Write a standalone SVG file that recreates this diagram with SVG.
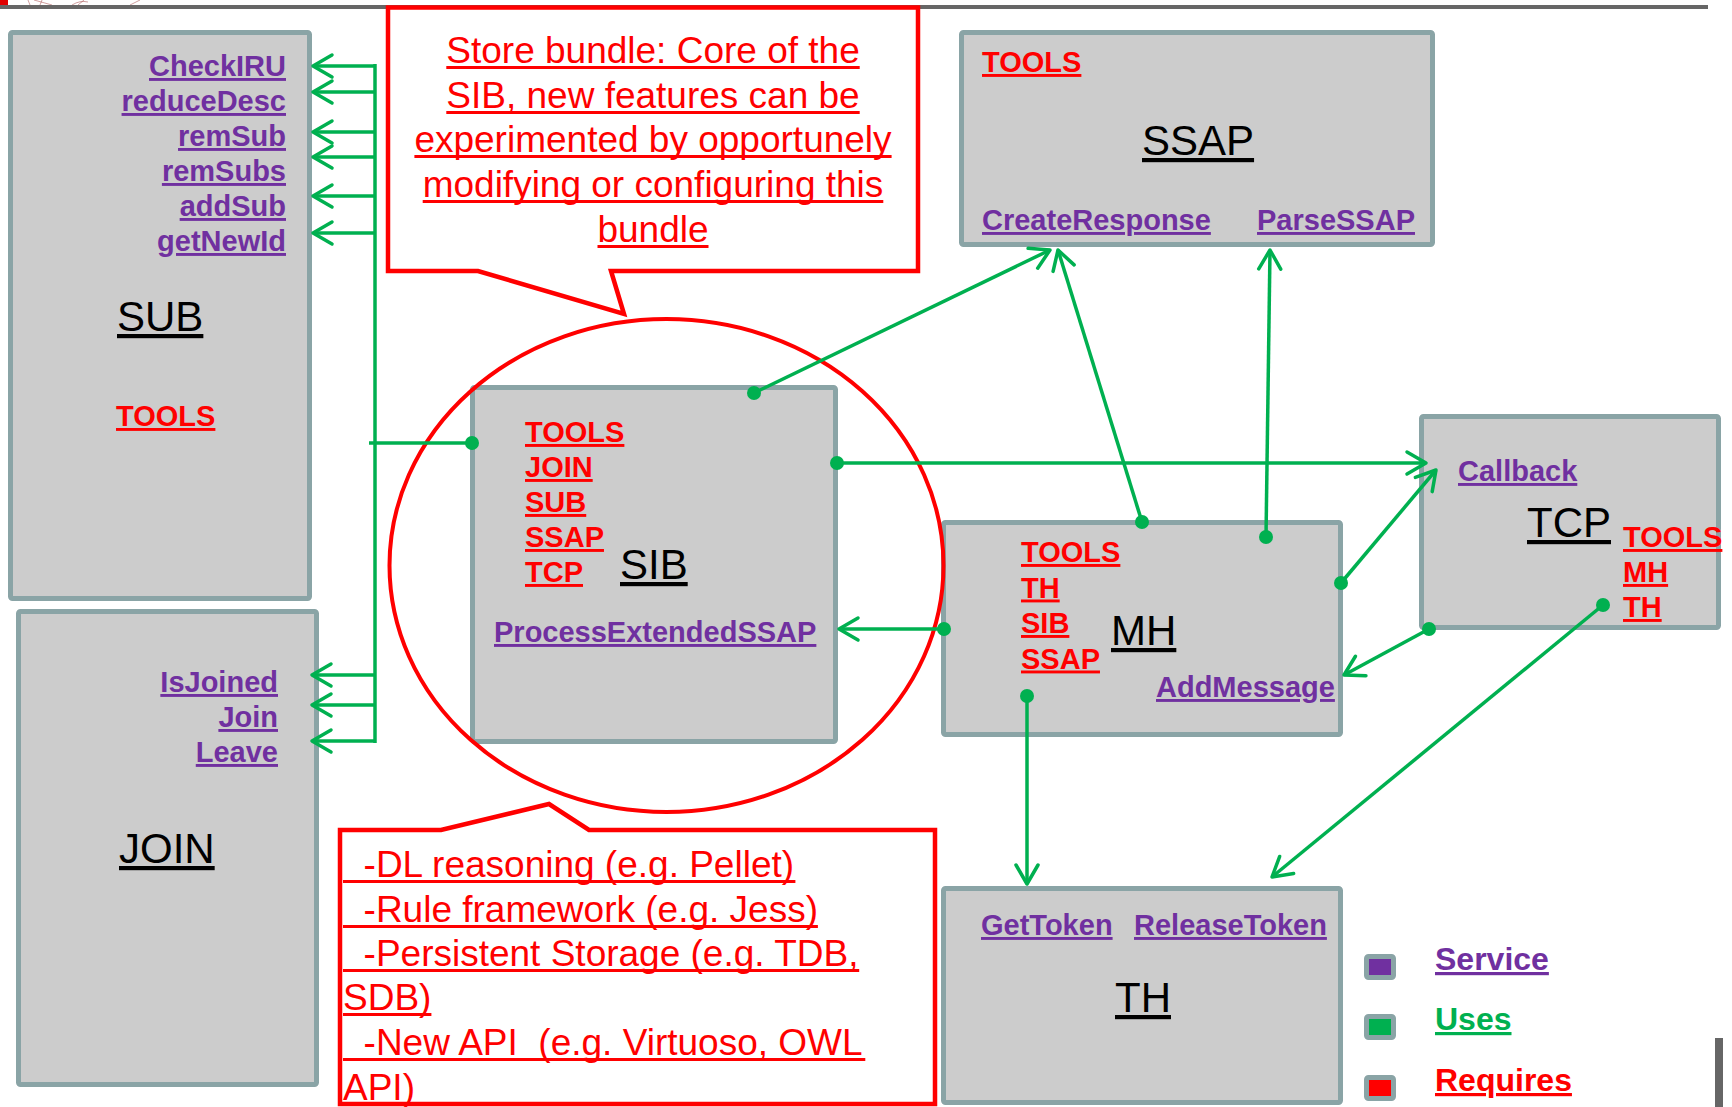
<svg xmlns="http://www.w3.org/2000/svg" width="1732" height="1107" viewBox="0 0 1732 1107">
  <style>
    .box { fill: #CCCCCC; stroke: #8AA4A6; stroke-width: 5; }
    .svc { font-family: "Liberation Sans", Arial, sans-serif; font-weight: bold; font-size: 29px; fill: #7030A0; text-decoration: underline; text-decoration-thickness: 3.5px; }
    .req { font-family: "Liberation Sans", Arial, sans-serif; font-weight: bold; font-size: 29px; fill: #FF0000; text-decoration: underline; text-decoration-thickness: 3.5px; }
    .title { font-family: "Liberation Sans", Arial, sans-serif; font-size: 42px; fill: #000000; text-decoration: underline; text-decoration-thickness: 4px; }
    .note { font-family: "Liberation Sans", Arial, sans-serif; font-size: 37px; fill: #FF0000; white-space: pre; }
    .rule { stroke: #FF0000; stroke-width: 3; }
    .callout { fill: #FFFFFF; stroke: #FF0000; stroke-width: 4.5; stroke-linejoin: miter; }
    .wire { stroke: #00B050; stroke-width: 3.5; fill: none; }
    .arrow { stroke: #00B050; stroke-width: 3.5; fill: none; marker-end: url(#openArrow); }
    .dot { fill: #00B050; }
    .key { stroke: #8AA4A6; stroke-width: 5; }
    .keytext { font-family: "Liberation Sans", Arial, sans-serif; font-weight: bold; font-size: 32px; text-decoration: underline; text-decoration-thickness: 3.5px; }
  </style>
  <defs>
    <marker id="openArrow" markerUnits="userSpaceOnUse" viewBox="0 0 24 26" refX="21" refY="13" markerWidth="24" markerHeight="26" orient="auto" overflow="visible">
      <path d="M2,2 L21,13 L2,24" fill="none" stroke="#00B050" stroke-width="3.5" stroke-linecap="round" stroke-linejoin="round"/>
    </marker>
  </defs>

  <rect width="1732" height="1107" fill="#FFFFFF"/>

  <!-- page frame remnants -->
  <g id="page-frame">
    <rect x="0" y="0" width="8" height="5" fill="#E00000"/>
    <path d="M28,0 L30,5 M34,0 L52,5 M42,0 L40,5 M72,5 Q80,0 88,2 M78,5 L84,0 M130,5 L140,0" stroke="#B06060" stroke-width="1" fill="none" opacity="0.6"/>
    <line x1="0" y1="7" x2="1708" y2="7" stroke="#666666" stroke-width="4"/>
    <rect x="1715" y="1038" width="8" height="69" fill="#666666"/>
  </g>

  <!-- SUB bundle -->
  <g id="node-sub">
    <rect class="box" x="10.5" y="32.5" width="299" height="566" rx="2"/>
    <text class="svc" x="286" y="76" text-anchor="end">CheckIRU</text>
    <text class="svc" x="286" y="111" text-anchor="end">reduceDesc</text>
    <text class="svc" x="286" y="146" text-anchor="end">remSub</text>
    <text class="svc" x="286" y="181" text-anchor="end">remSubs</text>
    <text class="svc" x="286" y="216" text-anchor="end">addSub</text>
    <text class="svc" x="286" y="251" text-anchor="end">getNewId</text>
    <text class="title" x="117" y="331">SUB</text>
    <text class="req" x="116" y="426">TOOLS</text>
  </g>

  <!-- JOIN bundle -->
  <g id="node-join">
    <rect class="box" x="18.5" y="611.5" width="298" height="473" rx="2"/>
    <text class="svc" x="278" y="692" text-anchor="end">IsJoined</text>
    <text class="svc" x="278" y="727" text-anchor="end">Join</text>
    <text class="svc" x="278" y="762" text-anchor="end">Leave</text>
    <text class="title" x="119" y="863">JOIN</text>
  </g>

  <!-- SIB bundle -->
  <g id="node-sib">
    <rect class="box" x="472.5" y="387.5" width="363" height="354" rx="2"/>
    <text class="req" x="525" y="442">TOOLS</text>
    <text class="req" x="525" y="477">JOIN</text>
    <text class="req" x="525" y="512">SUB</text>
    <text class="req" x="525" y="547">SSAP</text>
    <text class="req" x="525" y="582">TCP</text>
    <text class="title" x="620" y="579">SIB</text>
    <text class="svc" x="494" y="642">ProcessExtendedSSAP</text>
  </g>

  <!-- SSAP bundle -->
  <g id="node-ssap">
    <rect class="box" x="961.5" y="32.5" width="471" height="212" rx="2"/>
    <text class="req" x="982" y="72">TOOLS</text>
    <text class="title" x="1142" y="155">SSAP</text>
    <text class="svc" x="982" y="230">CreateResponse</text>
    <text class="svc" x="1257" y="230">ParseSSAP</text>
  </g>

  <!-- MH bundle -->
  <g id="node-mh">
    <rect class="box" x="943.5" y="522.5" width="397" height="212" rx="2"/>
    <text class="req" x="1021" y="562">TOOLS</text>
    <text class="req" x="1021" y="597.5">TH</text>
    <text class="req" x="1021" y="633">SIB</text>
    <text class="req" x="1021" y="668.5">SSAP</text>
    <text class="title" x="1111" y="645">MH</text>
    <text class="svc" x="1156" y="697">AddMessage</text>
  </g>

  <!-- TCP bundle -->
  <g id="node-tcp">
    <rect class="box" x="1421.5" y="416.5" width="297" height="211" rx="2"/>
    <text class="svc" x="1458" y="481">Callback</text>
    <text class="title" x="1527" y="537">TCP</text>
    <text class="req" x="1623" y="547">TOOLS</text>
    <text class="req" x="1623" y="582">MH</text>
    <text class="req" x="1623" y="617">TH</text>
  </g>

  <!-- TH bundle -->
  <g id="node-th">
    <rect class="box" x="943.5" y="888.5" width="397" height="214" rx="2"/>
    <text class="svc" x="981" y="935">GetToken</text>
    <text class="svc" x="1134" y="935">ReleaseToken</text>
    <text class="title" x="1115" y="1012">TH</text>
  </g>

  <!-- highlight around the store bundle -->
  <g id="store-highlight">
    <ellipse cx="666.5" cy="565.5" rx="277" ry="246.5" fill="none" stroke="#FF0000" stroke-width="4"/>
  </g>

  <!-- uses relations -->
  <g id="connectors">
    <line class="wire" x1="375" y1="64" x2="375" y2="743"/>
    <line class="arrow" x1="375" y1="66" x2="313" y2="66"/>
    <line class="arrow" x1="375" y1="92" x2="313" y2="92"/>
    <line class="arrow" x1="375" y1="132" x2="313" y2="132"/>
    <line class="arrow" x1="375" y1="157" x2="313" y2="157"/>
    <line class="arrow" x1="375" y1="196" x2="313" y2="196"/>
    <line class="arrow" x1="375" y1="233" x2="313" y2="233"/>
    <line class="arrow" x1="375" y1="675" x2="312" y2="675"/>
    <line class="arrow" x1="375" y1="705" x2="312" y2="705"/>
    <line class="arrow" x1="375" y1="741" x2="312" y2="741"/>
    <line class="wire" x1="369" y1="443" x2="472" y2="443"/>
    <circle class="dot" cx="472" cy="443" r="7"/>

    <line class="arrow" x1="754" y1="393" x2="1050" y2="250"/>
    <circle class="dot" cx="754" cy="393" r="7"/>
    <line class="arrow" x1="837" y1="463" x2="1426" y2="463"/>
    <circle class="dot" cx="837" cy="463" r="7"/>

    <line class="arrow" x1="944" y1="629" x2="839" y2="629"/>
    <circle class="dot" cx="944" cy="629" r="7"/>
    <line class="arrow" x1="1142" y1="522" x2="1058" y2="250"/>
    <circle class="dot" cx="1142" cy="522" r="7"/>
    <line class="arrow" x1="1266" y1="537" x2="1270" y2="250"/>
    <circle class="dot" cx="1266" cy="537" r="7"/>
    <line class="arrow" x1="1341" y1="583" x2="1436" y2="470"/>
    <circle class="dot" cx="1341" cy="583" r="7"/>
    <line class="arrow" x1="1027" y1="696" x2="1027" y2="884"/>
    <circle class="dot" cx="1027" cy="696" r="7"/>

    <line class="arrow" x1="1429" y1="629" x2="1344" y2="675"/>
    <circle class="dot" cx="1429" cy="629" r="7"/>
    <line class="arrow" x1="1603" y1="605" x2="1272" y2="877"/>
    <circle class="dot" cx="1603" cy="605" r="7"/>
  </g>

  <!-- callout: store bundle description (underlines drawn as rules so they run through descenders) -->
  <g id="callout-store">
    <path class="callout" d="M388,7.5 H918 V271 H611 L624,314 L478,271 H388 Z"/>
    <text class="note" x="653" y="63" text-anchor="middle">Store bundle: Core of the</text>
    <text class="note" x="653" y="108" text-anchor="middle">SIB, new features can be</text>
    <text class="note" x="653" y="152" text-anchor="middle">experimented by opportunely</text>
    <text class="note" x="653" y="197" text-anchor="middle">modifying or configuring this</text>
    <text class="note" x="653" y="242" text-anchor="middle">bundle</text>
    <line class="rule" x1="446.3" y1="67.5" x2="859.7" y2="67.5"/>
    <line class="rule" x1="446.3" y1="112.5" x2="859.7" y2="112.5"/>
    <line class="rule" x1="414.4" y1="156.5" x2="891.6" y2="156.5"/>
    <line class="rule" x1="422.7" y1="201.5" x2="883.3" y2="201.5"/>
    <line class="rule" x1="597.5" y1="246.5" x2="708.5" y2="246.5"/>
  </g>

  <!-- callout: possible extensions -->
  <g id="callout-extensions">
    <path class="callout" d="M340,830 H441 L549,804 L589,830 H935 V1104 H340 Z"/>
    <text class="note" x="343" y="877" xml:space="preserve">  -DL reasoning (e.g. Pellet)</text>
    <text class="note" x="343" y="922" xml:space="preserve">  -Rule framework (e.g. Jess)</text>
    <text class="note" x="343" y="966" xml:space="preserve">  -Persistent Storage (e.g. TDB,</text>
    <text class="note" x="343" y="1010">SDB)</text>
    <text class="note" x="343" y="1055" xml:space="preserve">  -New API  (e.g. Virtuoso, OWL</text>
    <text class="note" x="343" y="1100">API)</text>
    <line class="rule" x1="343" y1="881.5" x2="795.4" y2="881.5"/>
    <line class="rule" x1="343" y1="926.5" x2="817.9" y2="926.5"/>
    <line class="rule" x1="343" y1="970.5" x2="859.2" y2="970.5"/>
    <line class="rule" x1="343" y1="1014.5" x2="431.4" y2="1014.5"/>
    <line class="rule" x1="343" y1="1059.5" x2="865.3" y2="1059.5"/>
    <line class="rule" x1="343" y1="1104" x2="415" y2="1104"/>
  </g>

  <!-- legend -->
  <g id="legend">
    <rect class="key" x="1366.5" y="956.5" width="27" height="21" rx="2" fill="#7030A0"/>
    <text class="keytext" x="1435" y="970" fill="#7030A0">Service</text>
    <rect class="key" x="1366.5" y="1016.5" width="27" height="21" rx="2" fill="#00B050"/>
    <text class="keytext" x="1435" y="1030" fill="#00B050">Uses</text>
    <rect class="key" x="1366.5" y="1077.5" width="27" height="21" rx="2" fill="#FF0000"/>
    <text class="keytext" x="1435" y="1091" fill="#FF0000">Requires</text>
  </g>
</svg>
